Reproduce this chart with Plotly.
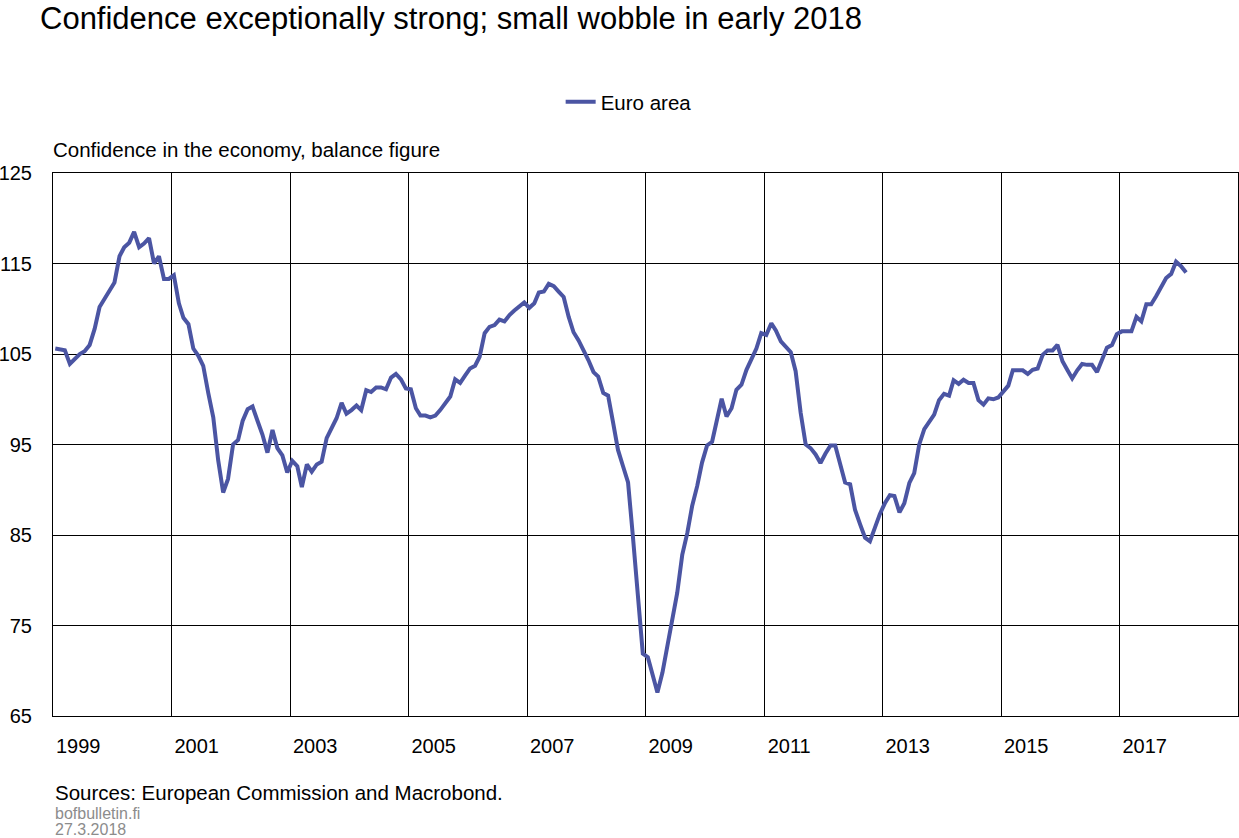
import plotly.graph_objects as go
import pandas as pd

# Monthly economic sentiment, euro area, Jan 1999 - Feb 2018
first_month = "1999-01-01"
v1999 = [105.6, 105.5, 105.4, 103.9, 104.5, 105.0, 105.3, 106.0, 107.8, 110.2, 111.1, 111.9]
v2000 = [112.9, 115.8, 116.8, 117.3, 118.5, 116.8, 117.2, 117.8, 115.0, 115.8, 113.3, 113.3]
v2001 = [113.7, 110.6, 109.0, 108.3, 105.6, 104.8, 103.7, 100.7, 98.0, 93.3, 89.7, 91.2]
v2002 = [95.0, 95.5, 97.6, 98.9, 99.2, 97.6, 96.1, 94.1, 96.6, 94.6, 93.8, 91.9]
v2003 = [93.2, 92.6, 90.3, 92.8, 92.0, 92.8, 93.1, 95.7, 96.8, 97.9, 99.6, 98.4]
v2004 = [98.8, 99.3, 98.8, 101.0, 100.8, 101.3, 101.3, 101.1, 102.4, 102.8, 102.2, 101.2]
v2005 = [101.1, 99.0, 98.2, 98.2, 98.0, 98.2, 98.8, 99.5, 100.3, 102.2, 101.8, 102.6]
v2006 = [103.4, 103.7, 104.7, 107.3, 108.0, 108.2, 108.8, 108.6, 109.3, 109.8, 110.2, 110.7]
v2007 = [110.1, 110.6, 111.8, 111.9, 112.75, 112.5, 111.9, 111.3, 109.1, 107.4, 106.5, 105.5]
v2008 = [104.3, 103.0, 102.5, 100.7, 100.4, 97.4, 94.4, 92.6, 90.8, 84.8, 78.8, 71.9]
v2009 = [71.5, 69.5, 67.6, 69.8, 72.7, 75.6, 78.6, 82.8, 85.2, 88.2, 90.4, 93.0]
v2010 = [94.9, 95.3, 97.55, 100.05, 98.1, 99.0, 101.05, 101.6, 103.25, 104.5, 105.6, 107.3]
v2011 = [107.1, 108.4, 107.6, 106.4, 105.8, 105.2, 103.1, 98.5, 95.0, 94.6, 93.9, 92.95]
v2012 = [94.0, 94.9, 94.9, 92.8, 90.8, 90.6, 87.8, 86.2, 84.7, 84.3, 86.0, 87.3]
v2013 = [88.5, 89.4, 89.3, 87.5, 88.5, 90.75, 91.85, 95.0, 96.7, 97.5, 98.3, 99.9]
v2014 = [100.6, 100.4, 102.1, 101.7, 102.15, 101.8, 101.8, 99.9, 99.4, 100.1, 100.0, 100.2]
v2015 = [100.9, 101.5, 103.2, 103.2, 103.2, 102.8, 103.25, 103.4, 104.9, 105.4, 105.4, 106.0]
v2016 = [104.2, 103.2, 102.3, 103.2, 103.9, 103.8, 103.8, 103.0, 104.4, 105.7, 106.0, 107.2]
v2017 = [107.5, 107.5, 107.5, 109.1, 108.6, 110.5, 110.5, 111.4, 112.45, 113.4, 113.85, 115.2]
v2018 = [114.7, 114.0]

euro_area = (v1999 + v2000 + v2001 + v2002 + v2003 + v2004 + v2005 + v2006 + v2007
             + v2008 + v2009 + v2010 + v2011 + v2012 + v2013 + v2014 + v2015 + v2016
             + v2017 + v2018)

label_years = ["1999", "2001", "2003", "2005", "2007", "2009", "2011", "2013", "2015", "2017"]
grid_years = ["2001", "2003", "2005", "2007", "2009", "2011", "2013", "2015", "2017"]
minor_tick_years = ["2000", "2002", "2004", "2006", "2008", "2010", "2012", "2014", "2016", "2018"]

months = pd.date_range(start=first_month, periods=len(euro_area), freq="MS") + pd.Timedelta(days=14)

FONT = "Liberation Sans, Arial, sans-serif"
LINE_COLOR = "#4b55a3"

W, H = 1239, 838

fig = go.Figure()
fig.add_trace(go.Scatter(
    x=months, y=euro_area, mode="lines", name="Euro area",
    line=dict(color=LINE_COLOR, width=4),
))

x_range = ["1999-01-01", "2019-01-01"]

fig.update_layout(
    width=W, height=H,
    margin=dict(l=53, r=1, t=173, b=122, autoexpand=False),
    paper_bgcolor="white", plot_bgcolor="white",
    font=dict(family=FONT, size=20, color="black"),
    title=dict(
        text="Confidence exceptionally strong; small wobble in early 2018",
        x=40 / W, xanchor="left", xref="container",
        y=1 - 18 / H, yanchor="middle", yref="container", pad=dict(t=0, b=0, l=0, r=0),
        font=dict(family=FONT, size=31, color="black"),
    ),
    showlegend=True,
    legend=dict(
        orientation="h", x=0.4284, xanchor="left", y=1.131, yanchor="middle",
        font=dict(family=FONT, size=20.5, color="black"),
        itemwidth=30, bgcolor="rgba(0,0,0,0)",
    ),
    xaxis=dict(
        type="date", range=x_range, automargin=False,
        tickmode="array",
        tickvals=[f"{y}-06-05" for y in label_years],
        ticktext=label_years,
        ticks="", showgrid=False, zeroline=False,
        showline=True, linecolor="black", linewidth=1, mirror=True,
        tickfont=dict(family=FONT, size=20, color="black"),
        ticklabelstandoff=12,
        minor=dict(
            tickmode="array",
            tickvals=[f"{y}-01-01" for y in grid_years],
            showgrid=True, gridcolor="black", gridwidth=1, ticks="",
        ),
    ),
    xaxis2=dict(
        type="date", range=x_range, overlaying="x", anchor="y", side="bottom",
        tickmode="array", automargin=False,
        tickvals=[f"{y}-01-01" for y in minor_tick_years],
        ticks="inside", ticklen=5, tickcolor="black", tickwidth=1,
        showticklabels=False, showgrid=False, zeroline=False, showline=False,
    ),
    yaxis=dict(
        range=[65, 125], tickmode="linear", tick0=65, dtick=10, automargin=False,
        showgrid=True, gridcolor="black", gridwidth=1, zeroline=False,
        showline=True, linecolor="black", linewidth=1, mirror=True,
        ticks="", tickfont=dict(family=FONT, size=20, color="black"),
        ticklabelstandoff=16,
    ),
    annotations=[
        dict(text="Confidence in the economy, balance figure", xref="paper", yref="paper",
             x=0, y=1.0424, xanchor="left", yanchor="middle", showarrow=False, xshift=-2,
             font=dict(family=FONT, size=20.5, color="black")),
        dict(text="Sources: European Commission and Macrobond.", xref="paper", yref="paper",
             x=0, y=-0.1418, xanchor="left", yanchor="middle", showarrow=False, xshift=0,
             font=dict(family=FONT, size=20.5, color="black")),
        dict(text="bofbulletin.fi", xref="paper", yref="paper",
             x=0, y=(716 - 813) / 543, xanchor="left", yanchor="middle", showarrow=False, xshift=0,
             font=dict(family=FONT, size=16, color="#8c8c8c")),
        dict(text="27.3.2018", xref="paper", yref="paper",
             x=0, y=(716 - 829) / 543, xanchor="left", yanchor="middle", showarrow=False, xshift=0,
             font=dict(family=FONT, size=16, color="#8c8c8c")),
    ],
)

# remove the browser's default 8px page margin so the figure fills the window exactly
fig.write_html("out.html", config={"displayModeBar": False},
               post_script="document.body.style.margin='0px';")
